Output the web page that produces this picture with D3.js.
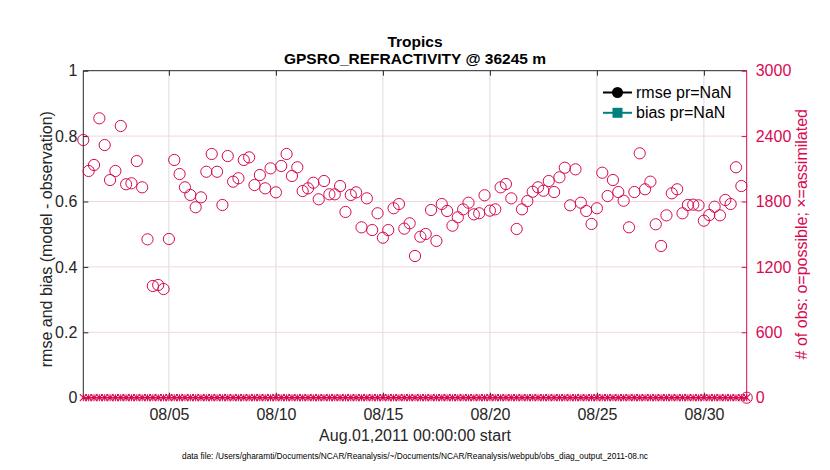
<!DOCTYPE html>
<html><head><meta charset="utf-8">
<script src="https://cdn.jsdelivr.net/npm/d3@7"></script>
<style>
html,body{margin:0;padding:0;background:#fff;}
text{font-family:"Liberation Sans",Arial,Helvetica,sans-serif;}
</style></head>
<body><svg id="c" width="830" height="470"></svg>
<script>
// ---- data ----
const startTime = "2011-08-01T00:00:00Z";
const stepHours = 6;
const nPossible = [2364,2080,2135,2563,2318,1997,2080,2493,1958,1967,2171,1930,1453,1025,1034,997,
 1456,2181,2052,1930,1860,1747,1838,2073,2236,2073,1768,2217,1982,2013,2181,2205,
 1951,2043,1921,2104,1884,2126,2236,2034,2114,1896,1921,1972,1820,1988,1866,1866,
 1942,1704,1860,1884,1563,1829,1538,1692,1468,1538,1738,1777,1551,1600,1300,1477,
 1502,1722,1438,1777,1713,1578,1655,1728,1789,1682,1692,1857,1716,1728,1930,1960,
 1829,1548,1728,1804,1890,1930,1899,1988,1887,2022,2110,1765,2095,1789,1713,1594,
 1738,2064,1850,1997,1887,1807,1563,1887,2242,1912,1982,1591,1392,1673,1875,1912,
 1692,1768,1771,1765,1624,1676,1752,1673,1814,1777,2114,1942,0];
const nAssim = nPossible.map(()=>0);
const leftTicks = [0,0.2,0.4,0.6,0.8,1];
const leftTickLabels = ["0","0.2","0.4","0.6","0.8","1"];
const rightTicks = [0,600,1200,1800,2400,3000];
const rightTickLabels = ["0","600","1200","1800","2400","3000"];
const xTickDates = ["2011-08-05","2011-08-10","2011-08-15","2011-08-20","2011-08-25","2011-08-30"];
const xTickLabels = ["08/05","08/10","08/15","08/20","08/25","08/30"];
const legendNames = ["rmse pr=NaN","bias pr=NaN"];
const titleLines = ["Tropics","GPSRO_REFRACTIVITY @ 36245 m"];

// ---- layout ----
const L=83.3, R=746.7, T=70.7, B=397.7;
const crimson="#D70A53", dark="#262626", teal="#008080";
const svg=d3.select("#c");
const t0=new Date(startTime);
const times=nPossible.map((d,i)=>new Date(t0.getTime()+i*stepHours*3600e3));
const x=d3.scaleUtc().domain([new Date("2011-08-01T00:00:00Z"),new Date("2011-09-01T00:00:00Z")]).range([L,R]);
const yL=d3.scaleLinear().domain([0,1]).range([B,T]);
const yR=d3.scaleLinear().domain([0,3000]).range([B,T]);

// grid
const xt=xTickDates.map(s=>new Date(s+"T00:00:00Z"));
svg.append("g").selectAll("line").data(xt).join("line")
 .attr("x1",d=>x(d)).attr("x2",d=>x(d)).attr("y1",T).attr("y2",B)
 .attr("stroke","#dcdcdc").attr("stroke-width",1);
svg.append("g").selectAll("line").data(rightTicks.slice(1,-1)).join("line")
 .attr("x1",L).attr("x2",R).attr("y1",d=>yR(d)).attr("y2",d=>yR(d))
 .attr("stroke","#f4d6e1").attr("stroke-width",1);

// box
svg.append("line").attr("x1",L).attr("x2",R).attr("y1",T).attr("y2",T).attr("stroke",dark);
svg.append("line").attr("x1",L).attr("x2",R).attr("y1",B).attr("y2",B).attr("stroke",dark);

// x axis ticks (inside, bottom and top)
const xAxB=d3.axisBottom(x).tickValues(xt).tickSize(-5).tickFormat((d,i)=>xTickLabels[i]).tickPadding(11);
const gx=svg.append("g").attr("transform",`translate(0,${B})`).call(xAxB);
gx.select(".domain").remove();
gx.selectAll("line").attr("stroke",dark);
gx.selectAll("text").attr("fill",dark).attr("font-size",16);
const gxt=svg.append("g").attr("transform",`translate(0,${T})`).call(d3.axisTop(x).tickValues(xt).tickSize(-5).tickFormat(""));
gxt.select(".domain").remove(); gxt.selectAll("line").attr("stroke",dark);

// left axis
const gl=svg.append("g").attr("transform",`translate(${L},0)`)
 .call(d3.axisLeft(yL).tickValues(leftTicks).tickSize(-5).tickPadding(6).tickFormat((d,i)=>leftTickLabels[i]));
gl.select(".domain").attr("stroke",dark).attr("d",`M0,${T}V${B}`);
gl.selectAll("line").attr("stroke",dark);
gl.selectAll("text").attr("fill",dark).attr("font-size",16);

// right axis
const gr=svg.append("g").attr("transform",`translate(${R},0)`)
 .call(d3.axisRight(yR).tickValues(rightTicks).tickSize(-5).tickPadding(9).tickFormat((d,i)=>rightTickLabels[i]));
gr.select(".domain").attr("stroke",crimson).attr("d",`M0,${T}V${B}`);
gr.selectAll("line").attr("stroke",crimson);
gr.selectAll("text").attr("fill",crimson).attr("font-size",16);

// assimilated markers (x)
const s=3.5;
svg.append("g").selectAll("path").data(nAssim).join("path")
 .attr("d",(d,i)=>{const cx=x(times[i]),cy=yR(d);return `M${cx-s},${cy-s}L${cx+s},${cy+s}M${cx-s},${cy+s}L${cx+s},${cy-s}M${cx},${cy-s}V${cy+s}`;})
 .attr("stroke",crimson).attr("stroke-width",1.1).attr("fill","none");
svg.append("line").attr("x1",L).attr("x2",R).attr("y1",B).attr("y2",B).attr("stroke",crimson).attr("stroke-width",1.5);
// possible markers (o)
svg.append("g").selectAll("circle").data(nPossible).join("circle")
 .attr("cx",(d,i)=>x(times[i])).attr("cy",d=>yR(d)).attr("r",5.6)
 .attr("fill","none").attr("stroke",crimson).attr("stroke-width",1);

// titles
svg.append("text").attr("x",415).attr("y",47).attr("text-anchor","middle").attr("font-weight","bold").attr("font-size",15.5).attr("fill","#000").text(titleLines[0]);
svg.append("text").attr("x",415).attr("y",64).attr("text-anchor","middle").attr("font-weight","bold").attr("font-size",15.5).attr("fill","#000").text(titleLines[1]);

// axis labels
svg.append("text").attr("transform",`translate(52,${(T+B)/2+5}) rotate(-90)`).attr("text-anchor","middle").attr("font-size",16).attr("fill",dark).text("rmse and bias (model - observation)");
svg.append("text").attr("transform",`translate(807,${(T+B)/2}) rotate(-90)`).attr("text-anchor","middle").attr("font-size",16).attr("fill",crimson).text("# of obs: o=possible; \u00d7=assimilated");
svg.append("text").attr("x",415).attr("y",441).attr("text-anchor","middle").attr("font-size",16).attr("fill",dark).text("Aug.01,2011 00:00:00 start");
svg.append("text").attr("x",415).attr("y",459).attr("text-anchor","middle").attr("font-size",8.3).attr("fill","#000").text("data file: /Users/gharamti/Documents/NCAR/Reanalysis/~/Documents/NCAR/Reanalysis/webpub/obs_diag_output_2011-08.nc");

// legend
const lg=svg.append("g");
const rows=[{c:"#000",m:"circle"},{c:teal,m:"square"}];
rows.forEach((r,i)=>{
 const y=92.5+i*20.3;
 lg.append("line").attr("x1",603).attr("x2",632).attr("y1",y).attr("y2",y).attr("stroke",r.c).attr("stroke-width",2);
 if(r.m==="circle") lg.append("circle").attr("cx",617.5).attr("cy",y).attr("r",5.5).attr("fill",r.c);
 else lg.append("rect").attr("x",612.5).attr("y",y-5).attr("width",10).attr("height",10).attr("fill",r.c);
 lg.append("text").attr("x",636).attr("y",y+5.5).attr("font-size",16).attr("fill","#000").text(legendNames[i]);
});
</script></body></html>
